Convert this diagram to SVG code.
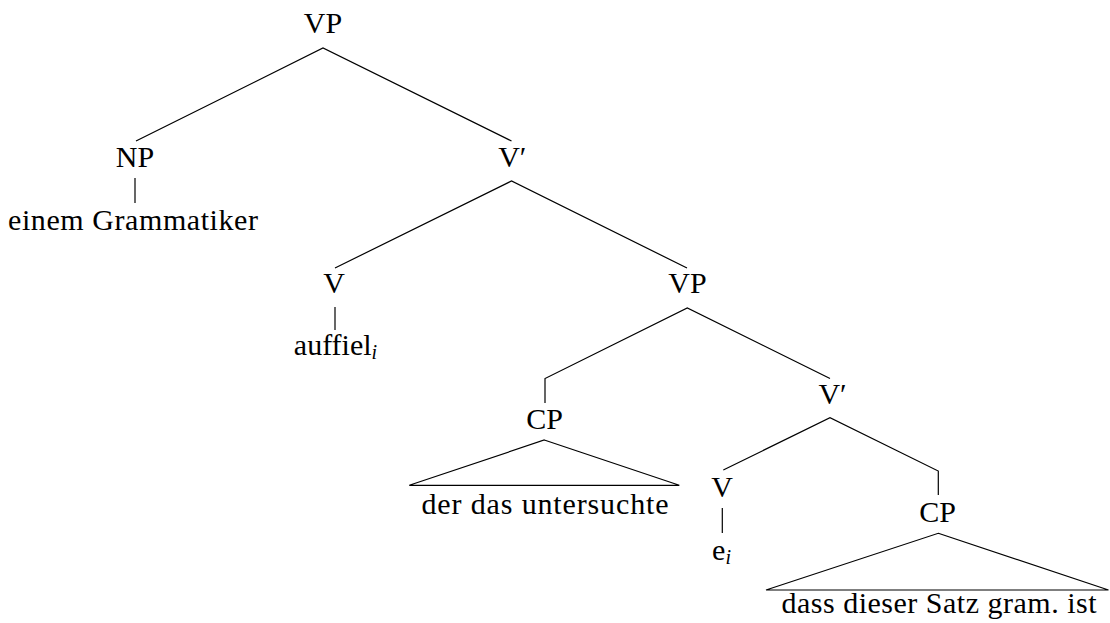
<svg xmlns="http://www.w3.org/2000/svg" width="1110" height="623" viewBox="0 0 1110 623">
  <style>
    .lbl { font-family: 'Liberation Serif', serif; font-size: 30px; fill: #000; text-anchor: middle; }
    .sub { font-style: italic; font-size: 20px; }
    .edge { fill: none; stroke: #000; stroke-width: 1.2; stroke-linejoin: miter; }
  </style>
  <rect width="1110" height="623" fill="#fff"/>

  <!-- connectors between nodes -->
  <g id="edges">
    <polyline class="edge" points="136,141 323,48 511.5,141"/>
    <line class="edge" x1="135" y1="178" x2="135" y2="203"/>
    <polyline class="edge" points="335,268 511.5,181 687,268"/>
    <line class="edge" x1="335" y1="307" x2="335" y2="330"/>
    <polyline class="edge" points="545,403 545,378.5 687.3,308 830,378.5"/>
    <polyline class="edge" points="723.3,470 830,417.7 938.3,471 938.3,495"/>
    <line class="edge" x1="722.3" y1="508" x2="722.3" y2="533"/>
    <!-- roof triangles over unanalysed phrases -->
    <polygon class="edge" points="544.3,440 679.3,485.3 409.3,485.3"/>
    <polygon class="edge" points="938.3,533.3 1108.5,590 766,590"/>
  </g>

  <g id="vp-top"><text class="lbl" x="323" y="33">VP</text></g>
  <g id="np"><text class="lbl" x="135" y="166.7">NP</text></g>
  <g id="np-word"><text class="lbl" x="133" y="230" textLength="250" lengthAdjust="spacing">einem Grammatiker</text></g>
  <g id="vbar-top"><text class="lbl" x="512.3" y="166.7">V′</text></g>
  <g id="v-top"><text class="lbl" x="334" y="293.3">V</text></g>
  <g id="v-top-word"><text class="lbl" x="335.5" y="355">auffiel<tspan class="sub" dy="4">i</tspan></text></g>
  <g id="vp-mid"><text class="lbl" x="687.5" y="293.3">VP</text></g>
  <g id="cp-left"><text class="lbl" x="544.5" y="429.3">CP</text></g>
  <g id="cp-left-words"><text class="lbl" x="545" y="514" textLength="247" lengthAdjust="spacing">der das untersuchte</text></g>
  <g id="vbar-low"><text class="lbl" x="832.5" y="404">V′</text></g>
  <g id="v-low"><text class="lbl" x="722" y="496.7">V</text></g>
  <g id="v-low-word"><text class="lbl" x="721.5" y="560">e<tspan class="sub" dy="4">i</tspan></text></g>
  <g id="cp-right"><text class="lbl" x="937.5" y="521.7">CP</text></g>
  <g id="cp-right-words"><text class="lbl" x="939" y="613" textLength="315" lengthAdjust="spacing">dass dieser Satz gram. ist</text></g>
</svg>
